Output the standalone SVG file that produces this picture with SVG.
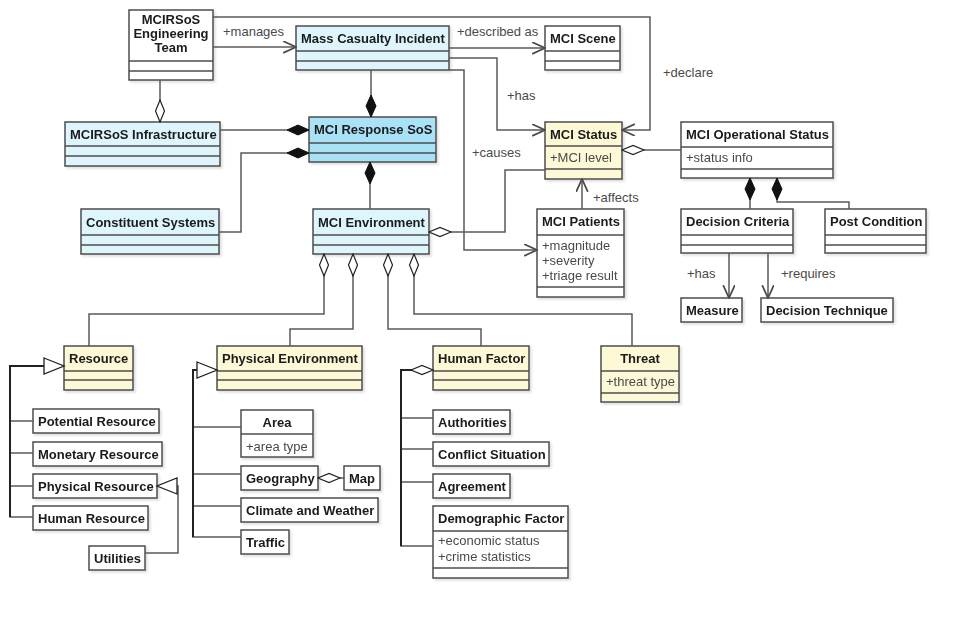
<svg xmlns="http://www.w3.org/2000/svg" width="966" height="618" viewBox="0 0 966 618">
<style>
.box{stroke:#4d4d4d;stroke-width:1.5}
.w{fill:#ffffff}
.c{fill:#dff5fc}
.b{fill:#a9e1f6}
.y{fill:#fdf8d6}
.sep{stroke:#4d4d4d;stroke-width:1.5}
.t{font-family:"Liberation Sans",Arial,sans-serif;font-size:13px;font-weight:bold;fill:#1a1a1a}
.a{font-family:"Liberation Sans",Arial,sans-serif;font-size:13px;fill:#4a4a4a}
.l{font-family:"Liberation Sans",Arial,sans-serif;font-size:13px;fill:#4a4a4a}
.ln{fill:none;stroke:#5a5a5a;stroke-width:1.5}
.tr{fill:none;stroke:#222;stroke-width:2}
.node{filter:url(#sh)}
</style>
<defs>
<filter id="sh" x="-10%" y="-10%" width="130%" height="140%">
<feDropShadow dx="2" dy="2" stdDeviation="1.2" flood-color="#000" flood-opacity="0.12"/>
</filter>
<marker id="arr" markerUnits="userSpaceOnUse" markerWidth="14" markerHeight="14" viewBox="0 0 12 12" refX="11" refY="5" orient="auto-start-reverse">
<path d="M0,0 L11,5 L0,10" fill="none" stroke="#4a4a4a" stroke-width="1.5"/>
</marker>
<marker id="fd" markerUnits="userSpaceOnUse" markerWidth="24" markerHeight="12" viewBox="0 0 24 12" refX="23" refY="6" orient="auto-start-reverse">
<path d="M1,6 L12,1 L23,6 L12,11 Z" fill="#111" stroke="#111" stroke-width="1"/>
</marker>
<marker id="hd" markerUnits="userSpaceOnUse" markerWidth="24" markerHeight="12" viewBox="0 0 24 12" refX="23" refY="6" orient="auto-start-reverse">
<path d="M1,6 L12,1.5 L23,6 L12,10.5 Z" fill="#fff" stroke="#222" stroke-width="1.2"/>
</marker>
<marker id="tri" markerUnits="userSpaceOnUse" markerWidth="24" markerHeight="20" viewBox="0 0 24 20" refX="21" refY="9" orient="auto-start-reverse">
<path d="M1,1 L21,9 L1,17 Z" fill="#fff" stroke="#222" stroke-width="1.3"/>
</marker>
</defs>
<rect width="966" height="618" fill="#ffffff"/>

<g id="nodes">
<g id="eng" class="node"><rect class="box w" x="129" y="10" width="84" height="70"/><line class="sep" x1="129" y1="61" x2="213" y2="61"/><line class="sep" x1="129" y1="71" x2="213" y2="71"/><text class="t" x="171" y="24" text-anchor="middle">MCIRSoS</text><text class="t" x="171" y="38" text-anchor="middle">Engineering</text><text class="t" x="171" y="52" text-anchor="middle">Team</text></g>
<g id="infra" class="node"><rect class="box c" x="65" y="122" width="155" height="44"/><line class="sep" x1="65" y1="146" x2="220" y2="146"/><line class="sep" x1="65" y1="156" x2="220" y2="156"/><text class="t" x="70" y="139">MCIRSoS Infrastructure</text></g>
<g id="mci" class="node"><rect class="box c" x="296" y="26" width="153" height="44"/><line class="sep" x1="296" y1="51" x2="449" y2="51"/><line class="sep" x1="296" y1="61" x2="449" y2="61"/><text class="t" x="301" y="43">Mass Casualty Incident</text></g>
<g id="scene" class="node"><rect class="box w" x="545" y="26" width="75" height="44"/><line class="sep" x1="545" y1="51" x2="620" y2="51"/><line class="sep" x1="545" y1="61" x2="620" y2="61"/><text class="t" x="550" y="43">MCI Scene</text></g>
<g id="sos" class="node"><rect class="box b" x="309" y="117" width="127" height="45"/><line class="sep" x1="309" y1="143" x2="436" y2="143"/><line class="sep" x1="309" y1="153" x2="436" y2="153"/><text class="t" x="314" y="134">MCI Response SoS</text></g>
<g id="status" class="node"><rect class="box y" x="545" y="122" width="77" height="57"/><line class="sep" x1="545" y1="146" x2="622" y2="146"/><line class="sep" x1="545" y1="169" x2="622" y2="169"/><text class="t" x="550" y="139">MCI Status</text><text class="a" x="550" y="162">+MCI level</text></g>
<g id="opstatus" class="node"><rect class="box w" x="681" y="122" width="152" height="56"/><line class="sep" x1="681" y1="147" x2="833" y2="147"/><line class="sep" x1="681" y1="169" x2="833" y2="169"/><text class="t" x="686" y="139">MCI Operational Status</text><text class="a" x="686" y="162">+status info</text></g>
<g id="patients" class="node"><rect class="box w" x="537" y="209" width="87" height="88"/><line class="sep" x1="537" y1="235" x2="624" y2="235"/><line class="sep" x1="537" y1="287" x2="624" y2="287"/><text class="t" x="542" y="226">MCI Patients</text><text class="a" x="542" y="250">+magnitude</text><text class="a" x="542" y="265">+severity</text><text class="a" x="542" y="280">+triage result</text></g>
<g id="constituent" class="node"><rect class="box c" x="81" y="209" width="138" height="45"/><line class="sep" x1="81" y1="235" x2="219" y2="235"/><line class="sep" x1="81" y1="245" x2="219" y2="245"/><text class="t" x="86" y="227">Constituent Systems</text></g>
<g id="env" class="node"><rect class="box c" x="313" y="209" width="116" height="45"/><line class="sep" x1="313" y1="235" x2="429" y2="235"/><line class="sep" x1="313" y1="245" x2="429" y2="245"/><text class="t" x="318" y="227">MCI Environment</text></g>
<g id="criteria" class="node"><rect class="box w" x="681" y="209" width="112" height="44"/><line class="sep" x1="681" y1="235" x2="793" y2="235"/><line class="sep" x1="681" y1="245" x2="793" y2="245"/><text class="t" x="686" y="226">Decision Criteria</text></g>
<g id="post" class="node"><rect class="box w" x="825" y="209" width="101" height="44"/><line class="sep" x1="825" y1="235" x2="926" y2="235"/><line class="sep" x1="825" y1="245" x2="926" y2="245"/><text class="t" x="830" y="226">Post Condition</text></g>
<g id="measure" class="node"><rect class="box w" x="681" y="298" width="61" height="24"/><text class="t" x="686" y="315">Measure</text></g>
<g id="technique" class="node"><rect class="box w" x="761" y="298" width="132" height="24"/><text class="t" x="766" y="315">Decision Technique</text></g>
<g id="resource" class="node"><rect class="box y" x="64" y="346" width="69" height="44"/><line class="sep" x1="64" y1="371" x2="133" y2="371"/><line class="sep" x1="64" y1="380" x2="133" y2="380"/><text class="t" x="69" y="363">Resource</text></g>
<g id="potential" class="node"><rect class="box w" x="33" y="409" width="126" height="24"/><text class="t" x="38" y="426">Potential Resource</text></g>
<g id="monetary" class="node"><rect class="box w" x="33" y="442" width="129" height="24"/><text class="t" x="38" y="459">Monetary Resource</text></g>
<g id="physres" class="node"><rect class="box w" x="33" y="474" width="124" height="24"/><text class="t" x="38" y="491">Physical Resource</text></g>
<g id="humanres" class="node"><rect class="box w" x="33" y="506" width="115" height="24"/><text class="t" x="38" y="523">Human Resource</text></g>
<g id="utilities" class="node"><rect class="box w" x="89" y="546" width="56" height="24"/><text class="t" x="94" y="563">Utilities</text></g>
<g id="physenv" class="node"><rect class="box y" x="217" y="346" width="145" height="44"/><line class="sep" x1="217" y1="371" x2="362" y2="371"/><line class="sep" x1="217" y1="380" x2="362" y2="380"/><text class="t" x="222" y="363">Physical Environment</text></g>
<g id="area" class="node"><rect class="box w" x="241" y="410" width="72" height="47"/><line class="sep" x1="241" y1="434" x2="313" y2="434"/><text class="t" x="277" y="427" text-anchor="middle">Area</text><text class="a" x="246" y="451">+area type</text></g>
<g id="geography" class="node"><rect class="box w" x="241" y="466" width="77" height="24"/><text class="t" x="246" y="483">Geography</text></g>
<g id="map" class="node"><rect class="box w" x="344" y="466" width="36" height="24"/><text class="t" x="349" y="483">Map</text></g>
<g id="climate" class="node"><rect class="box w" x="241" y="498" width="137" height="24"/><text class="t" x="246" y="515">Climate and Weather</text></g>
<g id="traffic" class="node"><rect class="box w" x="241" y="530" width="48" height="24"/><text class="t" x="246" y="547">Traffic</text></g>
<g id="humanfactor" class="node"><rect class="box y" x="433" y="346" width="96" height="44"/><line class="sep" x1="433" y1="371" x2="529" y2="371"/><line class="sep" x1="433" y1="380" x2="529" y2="380"/><text class="t" x="438" y="363">Human Factor</text></g>
<g id="authorities" class="node"><rect class="box w" x="433" y="410" width="77" height="24"/><text class="t" x="438" y="427">Authorities</text></g>
<g id="conflict" class="node"><rect class="box w" x="433" y="442" width="116" height="24"/><text class="t" x="438" y="459">Conflict Situation</text></g>
<g id="agreement" class="node"><rect class="box w" x="433" y="474" width="77" height="24"/><text class="t" x="438" y="491">Agreement</text></g>
<g id="demographic" class="node"><rect class="box w" x="433" y="506" width="135" height="72"/><line class="sep" x1="433" y1="531" x2="568" y2="531"/><line class="sep" x1="433" y1="568" x2="568" y2="568"/><text class="t" x="438" y="523">Demographic Factor</text><text class="a" x="438" y="545">+economic status</text><text class="a" x="438" y="561">+crime statistics</text></g>
<g id="threat" class="node"><rect class="box y" x="601" y="346" width="78" height="56"/><line class="sep" x1="601" y1="371" x2="679" y2="371"/><line class="sep" x1="601" y1="393" x2="679" y2="393"/><text class="t" x="640" y="363" text-anchor="middle">Threat</text><text class="a" x="606" y="386">+threat type</text></g>
</g>

<g id="connectors">
<path class="ln" d="M213,47 L296,47" marker-end="url(#arr)"/>
<path class="ln" d="M213,17 L650,17 L650,130 L622,130" marker-end="url(#arr)"/>
<path class="ln" d="M449,48 L545,48" marker-end="url(#arr)"/>
<path class="ln" d="M449,58 L497,58 L497,130 L545,130" marker-end="url(#arr)"/>
<path class="ln" d="M449,70 L464,70 L464,250 L537,250" marker-end="url(#arr)"/>
<path class="ln" d="M160,80 L160,122" marker-end="url(#hd)"/>
<path class="ln" d="M371,70 L371,117" marker-end="url(#fd)"/>
<path class="ln" d="M220,130 L309,130" marker-end="url(#fd)"/>
<path class="ln" d="M219,232 L241,232 L241,153 L309,153" marker-end="url(#fd)"/>
<path class="ln" d="M370,162 L370,209" marker-start="url(#fd)"/>
<path class="ln" d="M429,232 L505,232 L505,170 L545,170" marker-start="url(#hd)"/>
<path class="ln" d="M582,209 L582,179" marker-end="url(#arr)"/>
<path class="ln" d="M681,150 L622,150" marker-end="url(#hd)"/>
<path class="ln" d="M750,178 L750,209" marker-start="url(#fd)"/>
<path class="ln" d="M777,178 L777,202 L849,202 L849,209" marker-start="url(#fd)"/>
<path class="ln" d="M729,253 L729,298" marker-end="url(#arr)"/>
<path class="ln" d="M768,253 L768,298" marker-end="url(#arr)"/>
<path class="ln" d="M324,254 L324,314 L89,314 L89,346" marker-start="url(#hd)"/>
<path class="ln" d="M353,254 L353,329 L290,329 L290,346" marker-start="url(#hd)"/>
<path class="ln" d="M388,254 L388,329 L481,329 L481,346" marker-start="url(#hd)"/>
<path class="ln" d="M414,254 L414,314 L632,314 L632,346" marker-start="url(#hd)"/>
<path class="ln" d="M10,421 L33,421 M10,453 L33,453 M10,486 L33,486"/>
<path class="ln" d="M33,517 L10,517 L10,366 L64,366" marker-end="url(#tri)"/>
<path class="ln" d="M145,553 L178,553 L178,486 L157,486" marker-end="url(#tri)"/>
<path class="ln" d="M193,427 L241,427 M193,474 L241,474 M193,506 L241,506"/>
<path class="ln" d="M241,537 L193,537 L193,370 L217,370" marker-end="url(#tri)"/>
<path class="ln" d="M318,478 L344,478" marker-start="url(#hd)"/>
<path class="ln" d="M401,418 L433,418 M401,449 L433,449 M401,482 L433,482"/>
<path class="ln" d="M433,370 L401,370 L401,546 L433,546" marker-start="url(#hd)"/>
<path class="tr" d="M10,517 L10,366 L44,366"/>
<path class="tr" d="M193,537 L193,370 L197,370"/>
<path class="tr" d="M401,546 L401,370 L413,370"/>
<text class="l" x="223" y="36">+manages</text>
<text class="l" x="663" y="77">+declare</text>
<text class="l" x="457" y="36">+described as</text>
<text class="l" x="507" y="100">+has</text>
<text class="l" x="472" y="157">+causes</text>
<text class="l" x="593" y="202">+affects</text>
<text class="l" x="687" y="278">+has</text>
<text class="l" x="781" y="278">+requires</text>
</g>
</svg>
